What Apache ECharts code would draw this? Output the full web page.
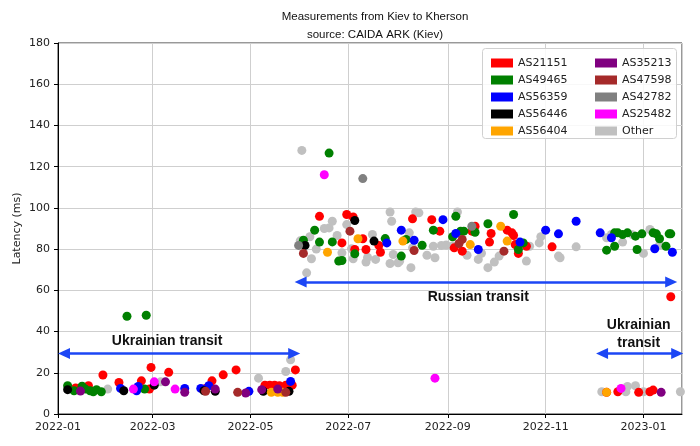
<!DOCTYPE html>
<html>
<head>
<meta charset="utf-8">
<script src="https://cdn.jsdelivr.net/npm/echarts@6/dist/echarts.min.js"></script>
<style>
    html, body { margin: 0; padding: 0; background: #fff; }
    #chart { width: 700px; height: 446px; }
</style>
</head>
<body>
<div id="chart"></div>
<script>
// === DATA (date, latency in ms) ===
const as21151 = [
    ["2022-01-12", 12.6], ["2022-01-20", 13.7], ["2022-01-29", 18.9], ["2022-02-08", 15.3],
    ["2022-02-22", 16.1], ["2022-02-27", 12.1], ["2022-02-28", 22.6], ["2022-03-11", 20.2],
    ["2022-04-03", 12.4], ["2022-04-07", 16.1], ["2022-04-14", 19.0], ["2022-04-22", 21.4],
    ["2022-05-10", 14.0], ["2022-05-13", 14.0], ["2022-05-16", 14.0], ["2022-05-19", 13.7],
    ["2022-05-23", 14.0], ["2022-05-27", 14.0], ["2022-05-29", 21.4],
    ["2022-06-13", 95.9], ["2022-06-27", 83.0], ["2022-06-30", 96.8], ["2022-07-04", 95.6],
    ["2022-07-05", 79.8], ["2022-07-10", 85.0], ["2022-07-12", 79.8], ["2022-07-20", 81.8],
    ["2022-07-21", 78.5], ["2022-08-10", 94.7], ["2022-08-22", 94.3], ["2022-08-27", 88.7],
    ["2022-09-05", 80.6], ["2022-09-10", 79.0], ["2022-09-16", 88.7], ["2022-09-18", 91.1],
    ["2022-09-27", 83.4], ["2022-09-28", 87.6], ["2022-10-08", 89.2], ["2022-10-11", 87.9],
    ["2022-10-12", 86.6], ["2022-10-13", 82.2], ["2022-10-15", 77.9], ["2022-10-20", 81.4],
    ["2022-11-05", 81.1], ["2023-01-18", 56.9],
    ["2022-12-09", 10.5], ["2022-12-16", 10.8], ["2022-12-29", 10.5], ["2023-01-05", 10.8],
    ["2023-01-07", 11.6]
];
const as49465 = [
    ["2022-01-07", 13.7], ["2022-01-11", 11.3], ["2022-01-16", 13.5], ["2022-01-18", 12.1],
    ["2022-01-21", 11.3], ["2022-01-23", 10.8], ["2022-01-25", 11.8], ["2022-01-28", 10.8],
    ["2022-02-13", 47.4], ["2022-02-25", 47.9], ["2022-02-24", 12.1],
    ["2022-06-03", 84.3], ["2022-06-10", 89.2], ["2022-06-13", 83.4], ["2022-06-19", 126.6],
    ["2022-06-21", 83.5], ["2022-06-25", 74.2], ["2022-06-27", 74.5], ["2022-07-05", 77.7],
    ["2022-07-24", 85.1], ["2022-08-03", 76.6], ["2022-08-06", 84.7], ["2022-08-16", 81.9],
    ["2022-08-23", 89.2], ["2022-09-04", 86.0], ["2022-09-06", 95.9], ["2022-09-09", 88.7],
    ["2022-09-11", 88.7], ["2022-09-18", 88.2], ["2022-09-26", 92.3], ["2022-10-12", 96.8],
    ["2022-10-15", 79.8], ["2022-10-18", 83.0],
    ["2022-12-09", 79.5], ["2022-12-14", 81.4], ["2022-12-14", 87.9], ["2022-12-16", 87.9],
    ["2022-12-19", 87.1], ["2022-12-22", 87.9], ["2022-12-27", 86.3], ["2022-12-28", 79.8],
    ["2022-12-31", 87.4], ["2023-01-07", 87.9], ["2023-01-09", 87.4], ["2023-01-11", 85.0],
    ["2023-01-15", 81.4], ["2023-01-17", 87.4], ["2023-01-18", 87.4]
];
const as56359 = [
    ["2022-02-09", 12.4], ["2022-02-19", 11.3], ["2022-02-20", 13.4], ["2022-03-21", 12.4],
    ["2022-03-31", 12.4], ["2022-04-05", 13.7], ["2022-04-30", 11.0], ["2022-05-26", 15.8],
    ["2022-07-25", 83.0], ["2022-08-03", 89.2], ["2022-08-11", 84.3], ["2022-08-29", 94.3],
    ["2022-09-06", 87.6], ["2022-09-20", 79.8], ["2022-10-16", 83.4], ["2022-11-01", 89.2],
    ["2022-11-09", 87.4], ["2022-11-20", 93.5], ["2022-12-05", 87.9], ["2022-12-12", 85.5],
    ["2023-01-08", 80.2], ["2023-01-19", 78.5]
];
const as56446 = [
    ["2022-01-07", 11.8], ["2022-02-11", 11.3], ["2022-03-02", 14.0], ["2022-04-02", 11.3],
    ["2022-04-09", 11.0], ["2022-05-09", 11.0], ["2022-05-25", 11.0],
    ["2022-06-04", 81.8], ["2022-07-05", 93.9], ["2022-07-17", 83.9]
];
const as56404 = [
    ["2022-05-14", 10.5], ["2022-05-18", 10.5], ["2022-05-21", 10.5],
    ["2022-06-18", 78.5], ["2022-07-07", 85.0], ["2022-08-04", 83.9], ["2022-09-15", 82.2],
    ["2022-10-04", 91.1], ["2022-10-08", 83.9], ["2022-12-09", 10.5]
];
const as35213 = [
    ["2022-01-15", 11.1], ["2022-03-09", 15.6], ["2022-03-21", 10.5], ["2022-04-09", 12.1],
    ["2022-04-28", 10.2], ["2022-05-08", 11.8], ["2022-05-18", 12.1], ["2023-01-12", 10.5]
];
const as47598 = [
    ["2022-04-03", 11.0], ["2022-04-23", 10.5], ["2022-05-23", 10.5],
    ["2022-06-03", 77.9], ["2022-07-02", 88.7], ["2022-08-11", 79.3], ["2022-09-08", 82.7],
    ["2022-09-10", 84.7], ["2022-10-06", 79.0]
];
const as42782 = [
    ["2022-05-31", 81.8], ["2022-07-10", 114.2], ["2022-09-16", 91.1]
];
const as25482 = [
    ["2022-02-17", 12.1], ["2022-03-02", 15.6], ["2022-03-15", 12.1], ["2022-06-16", 116.1],
    ["2022-08-24", 17.4], ["2022-12-18", 12.4]
];
const other = [
    ["2022-02-01", 12.1], ["2022-03-06", 15.6], ["2022-05-06", 17.4], ["2022-05-23", 20.6],
    ["2022-05-26", 26.3],
    ["2022-06-02", 127.9], ["2022-06-01", 84.0], ["2022-06-02", 82.0], ["2022-06-05", 68.5],
    ["2022-06-07", 86.0], ["2022-06-08", 75.3], ["2022-06-11", 80.0], ["2022-06-16", 90.0],
    ["2022-06-19", 90.3], ["2022-06-21", 93.5], ["2022-06-24", 86.6], ["2022-06-27", 78.2],
    ["2022-06-30", 91.9], ["2022-07-03", 80.2], ["2022-07-04", 75.3], ["2022-07-12", 73.7],
    ["2022-07-13", 76.0], ["2022-07-16", 87.1], ["2022-07-18", 75.0], ["2022-07-27", 73.0],
    ["2022-07-27", 98.0], ["2022-07-28", 93.5], ["2022-07-29", 77.4], ["2022-08-01", 73.4],
    ["2022-08-02", 74.2], ["2022-08-08", 87.9], ["2022-08-09", 71.0], ["2022-08-10", 80.6],
    ["2022-08-12", 98.0], ["2022-08-14", 97.6], ["2022-08-19", 77.0], ["2022-08-23", 81.4],
    ["2022-08-24", 75.8], ["2022-08-28", 81.8], ["2022-08-31", 82.0], ["2022-09-04", 81.5],
    ["2022-09-07", 98.0], ["2022-09-13", 77.0], ["2022-09-20", 75.0], ["2022-09-22", 78.0],
    ["2022-09-26", 71.0], ["2022-09-30", 73.7], ["2022-10-03", 76.6], ["2022-10-20", 74.2],
    ["2022-10-22", 81.4], ["2022-10-28", 83.0], ["2022-10-29", 86.0], ["2022-11-09", 76.6],
    ["2022-11-10", 75.8], ["2022-11-20", 81.1], ["2022-12-09", 85.5], ["2022-12-12", 87.1],
    ["2022-12-19", 83.4], ["2022-12-25", 87.0], ["2023-01-01", 77.9], ["2023-01-05", 89.5],
    ["2023-01-11", 82.0],
    ["2022-12-06", 10.8], ["2022-12-21", 10.8], ["2022-12-22", 13.4], ["2022-12-27", 13.7],
    ["2023-01-01", 10.8], ["2023-01-24", 10.8]
];

// legend order: [name, color, data]
const asList = [
    ["AS21151", "#ff0000", as21151],
    ["AS49465", "#008000", as49465],
    ["AS56359", "#0000ff", as56359],
    ["AS56446", "#000000", as56446],
    ["AS56404", "#ffa500", as56404],
    ["AS35213", "#800080", as35213],
    ["AS47598", "#a52a2a", as47598],
    ["AS42782", "#808080", as42782],
    ["AS25482", "#ff00ff", as25482],
    ["Other", "#c0c0c0", other]
];

// transit periods: [from, to, latency level]
const arrows = [
    ["2022-01-04 18:00", "2022-05-28 06:00", 29.4],
    ["2022-06-01 06:00", "2023-01-18 06:00", 64.0],
    ["2022-12-06 04:00", "2023-01-22 00:00", 29.4]
];
const arrowLabels = [
    ["2022-03-10", 35.3, "Ukrainian transit"],
    ["2022-09-20", 56.6, "Russian transit"],
    ["2022-12-29", 38.7, "Ukrainian\ntransit"]
];

const FONT = "DejaVu Sans";
const chart = echarts.init(document.getElementById("chart"));

const scatterSeries = asList.map(([name, color, data]) => ({
    name: name,
    type: "scatter",
    data: data,
    symbolSize: 9,
    itemStyle: { color: color, opacity: 1 },
    z: name === "Other" ? 2 : 3,
}));

const legendItem = (names, left) => ({
    orient: "vertical",
    left: left,
    top: 52,
    itemWidth: 22,
    itemHeight: 9,
    itemGap: 5,
    icon: "rect",
    z: 10,
    textStyle: { fontFamily: FONT, fontSize: 11, color: "#222", lineHeight: 12 },
    data: names,
});

const option = {
    animation: false,
    title: {
        text: "Measurements from Kiev to Kherson\nsource: CAIDA ARK (Kiev)",
        left: 370,
        top: 3,
        textAlign: "center",
        textStyle: {
            fontFamily: "Liberation Sans",
            fontSize: 11.5,
            fontWeight: "normal",
            color: "#111",
            lineHeight: 18,
        },
    },
    grid: { left: 58, right: 18, top: 43, bottom: 32, show: true, borderColor: "#333", borderWidth: 1 },
    legend: [
        legendItem(asList.slice(0, 5).map((a) => a[0]), 486),
        legendItem(asList.slice(5).map((a) => a[0]), 590),
    ],
    graphic: [
        {
            type: "rect",
            left: 482,
            top: 48,
            shape: { width: 194, height: 90, r: 3 },
            style: { fill: "rgba(255,255,255,0.85)", stroke: "#d0d0d0", lineWidth: 1 },
            z: 9,
        },
    ],
    xAxis: {
        type: "time",
        min: "2022-01-01",
        max: "2023-01-25",
        splitNumber: 5,
        axisLine: { show: true, lineStyle: { color: "#000", width: 1 } },
        axisTick: { show: true, length: 4, lineStyle: { color: "#000" } },
        axisLabel: {
            fontFamily: FONT,
            fontSize: 11,
            color: "#222",
            margin: 8,
            showMaxLabel: false,
            hideOverlap: false,
            formatter: (val) => {
                const d = new Date(val);
                return d.getFullYear() + "-" + String(d.getMonth() + 1).padStart(2, "0");
            },
        },
        splitLine: { show: true, lineStyle: { color: "#cfcfcf", width: 1 } },
    },
    yAxis: {
        type: "value",
        min: 0,
        max: 180,
        interval: 20,
        name: "Latency (ms)",
        nameLocation: "middle",
        nameGap: 35,
        nameMoveOverlap: false,
        nameTextStyle: { fontFamily: FONT, fontSize: 11, color: "#222" },
        axisLine: { show: true, lineStyle: { color: "#000", width: 1 } },
        axisTick: { show: true, length: 4, lineStyle: { color: "#000" } },
        axisLabel: { fontFamily: FONT, fontSize: 11, color: "#222", margin: 8 },
        splitLine: { show: true, lineStyle: { color: "#cfcfcf", width: 1 } },
    },
    series: [
        ...scatterSeries,
        {
            name: "annotations",
            type: "scatter",
            data: [],
            z: 4,
            markLine: {
                silent: true,
                symbol: ["triangle", "triangle"],
                symbolSize: [11, 12],
                lineStyle: { color: "#1c46f5", width: 2.5, type: "solid" },
                label: { show: false },
                data: arrows.map(([from, to, y]) => [
                    { coord: [from, y] },
                    { coord: [to, y] },
                ]),
            },
            markPoint: {
                silent: true,
                symbol: "circle",
                symbolSize: 0,
                label: {
                    show: true,
                    position: "inside",
                    fontFamily: "Liberation Sans",
                    fontWeight: "bold",
                    fontSize: 14,
                    lineHeight: 18,
                    color: "#111",
                    align: "center",
                },
                data: arrowLabels.map(([x, y, text]) => ({
                    coord: [x, y],
                    label: { formatter: text },
                })),
            },
        },
    ],
};

chart.setOption(option);
</script>
</body>
</html>
